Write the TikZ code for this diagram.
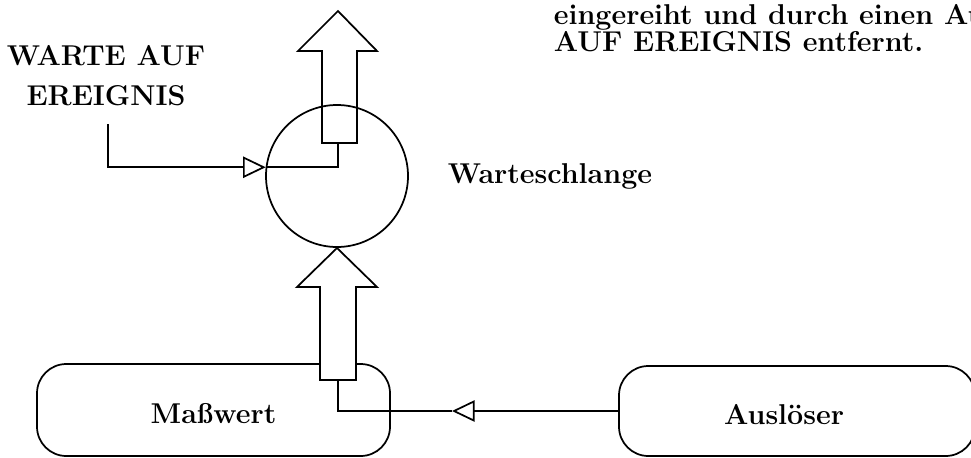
\documentclass[tikz,border=0pt]{standalone}
\usetikzlibrary{arrows.meta}
\begin{document}
\begin{tikzpicture}[x=0.75pt,y=-0.75pt,
  line width=1.3pt, line join=miter,
  txt/.style={font=\fontsize{21.5}{30}\selectfont\bfseries, inner sep=0pt},
  boxnode/.style={draw, rounded corners=22pt, inner sep=0pt},
  opentri/.style={-{Triangle[open,length=17pt,width=16pt]}},
  blockarrow/.style={draw, line join=miter}
]
\useasboundingbox (0,0) rectangle (971,457);
\clip (0,0) rectangle (971,457);

% top-right running text (cut at the right edge, as in the reference)
\node[txt, anchor=base west] (t1) at (553,24) {eingereiht und durch einen Au};
\node[txt, anchor=base west] (t2) at (553,51) {AUF EREIGNIS entfernt.};

% label
\node[txt, align=center, anchor=north] (lbl) at (106,45) {WARTE AUF\\EREIGNIS};

% queue circle
\node[draw, circle, minimum size=106.5pt, inner sep=0pt] (q) at (337,176) {};
\node[txt, anchor=base west] (qlbl) at (447,183) {Warteschlange};

% top block arrow (output)
\draw[blockarrow] (322,143) -- (322,51) -- (298,51) -- (338,11) -- (377,51)
  -- (357,51) -- (357,143) -- cycle;
\coordinate (tb) at (338,143);
\coordinate (ws) at (108,124);
\draw[opentri] (ws) |- (q.173.5);
\draw (q.173.5) -| (tb);

% boxes
\node[boxnode, minimum width=264.75pt, minimum height=69pt] (m) at (213.5,410) {};
\node[txt, anchor=base] (mt1) at (213.5,423) {Maßwert};
\node[boxnode, minimum width=267pt, minimum height=67.5pt] (a) at (797,411) {};
\node[txt, anchor=base] (at1) at (784,424) {Auslöser};

% bottom block arrow (input)
\draw[blockarrow, fill=white] (320,380) -- (320,287) -- (297,287) -- (337,248)
  -- (377,287) -- (356,287) -- (356,380) -- cycle;
\coordinate (bb) at (338,380);
\coordinate (mt) at (452,411);
\draw[opentri] (a.west) -- (mt);
\draw (mt) -| (bb);
\end{tikzpicture}
\end{document}
